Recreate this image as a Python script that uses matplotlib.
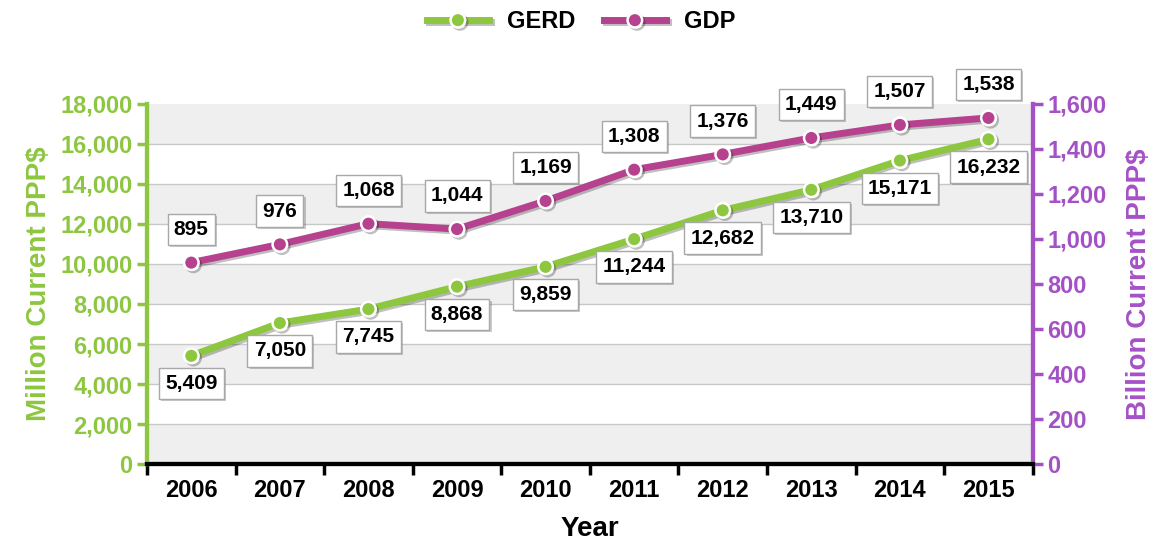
import matplotlib.pyplot as plt
import matplotlib.patheffects as pe
import numpy as np

plt.rcParams['font.family'] = ['Liberation Sans', 'DejaVu Sans']
plt.rcParams['font.weight'] = 'bold'

years = ["2006", "2007", "2008", "2009", "2010", "2011", "2012", "2013", "2014", "2015"]
gerd = [5409, 7050, 7745, 8868, 9859, 11244, 12682, 13710, 15171, 16232]
gdp = [895, 976, 1068, 1044, 1169, 1308, 1376, 1449, 1507, 1538]

green = "#8dc63f"
magenta = "#b6418e"
purple = "#a451c6"

fig = plt.figure(figsize=(11.63, 5.41), dpi=100)
ax = fig.add_axes([0.1264, 0.1423, 0.7616, 0.6655])
ax2 = ax.twinx()

x = np.arange(len(years))

# alternating bands
for i, lo in enumerate(range(0, 18000, 2000)):
    if i % 2 == 0:
        ax.axhspan(lo, lo + 2000, color="#efefef", zorder=0, lw=0)
for yv in range(2000, 18000, 2000):
    ax.axhline(yv, color="#c8c8c8", lw=1, zorder=1)

shadow = [pe.SimpleLineShadow(offset=(1.5, -1.5), alpha=0.25), pe.Normal()]
l1, = ax.plot(x, gerd, color=green, lw=5, marker="o", ms=10.5, mfc=green, mec="white",
              mew=1.8, zorder=3, path_effects=shadow)
l2, = ax2.plot(x, gdp, color=magenta, lw=5, marker="o", ms=10.5, mfc=magenta, mec="white",
               mew=1.8, zorder=3, path_effects=shadow)

box = dict(boxstyle="square,pad=0.3", fc="white", ec="#a8a8a8", lw=1)
for xi, v in zip(x, gerd):
    t = ax.annotate(f"{v:,}", (xi, v), xytext=(0, -20), textcoords="offset points",
                    ha="center", va="center", fontsize=15, fontweight="bold", bbox=box, zorder=5)
    t.get_bbox_patch().set_path_effects([pe.withSimplePatchShadow(offset=(1.5, -1.5), alpha=0.3)])
for xi, v in zip(x, gdp):
    t = ax2.annotate(f"{v:,}", (xi, v), xytext=(0, 24), textcoords="offset points",
                     ha="center", va="center", fontsize=15, fontweight="bold", bbox=box, zorder=5)
    t.get_bbox_patch().set_path_effects([pe.withSimplePatchShadow(offset=(1.5, -1.5), alpha=0.3)])

ax.set_xlim(-0.5, len(years) - 0.5)
ax.set_ylim(0, 18000)
ax2.set_ylim(0, 1600)

ax.set_xticks(np.arange(-0.5, len(years), 1.0))
ax.set_xticklabels([])
ax.set_xticks(x, minor=True)
ax.set_xticklabels(years, minor=True, fontsize=17, fontweight="bold")
ax.tick_params(axis="x", which="major", length=8, width=2.5, color="black", direction="out")
ax.tick_params(axis="x", which="minor", length=0, pad=11)

ax.set_yticks(range(0, 18001, 2000))
ax.set_yticklabels([f"{v:,}" for v in range(0, 18001, 2000)], fontsize=17, fontweight="bold", color=green)
ax.tick_params(axis="y", length=7, width=2.5, color=green)
ax2.set_yticks(range(0, 1601, 200))
ax2.set_yticklabels([f"{v:,}" for v in range(0, 1601, 200)], fontsize=17, fontweight="bold", color=purple)
ax2.tick_params(axis="y", length=7, width=2.5, color=purple)

for a in (ax, ax2):
    a.spines["top"].set_visible(False)
    a.spines["left"].set_color(green)
    a.spines["left"].set_linewidth(3)
    a.spines["right"].set_color(purple)
    a.spines["right"].set_linewidth(3)
    a.spines["bottom"].set_color("black")
    a.spines["bottom"].set_linewidth(3)

ax.set_ylabel("Million Current PPP$", fontsize=20, fontweight="bold", color=green, labelpad=6)
ax2.set_ylabel("Billion Current PPP$", fontsize=20, fontweight="bold", color=purple, labelpad=14)
ax.set_xlabel("Year", fontsize=20, fontweight="bold", labelpad=10)

fig.legend([l1, l2], ["GERD", "GDP"], loc="upper center", bbox_to_anchor=(0.5, 1.02), ncol=2,
           frameon=False, handlelength=2.6, columnspacing=1.2,
           prop={"size": 17, "weight": "bold"})

fig.savefig("out.png", dpi=100)
